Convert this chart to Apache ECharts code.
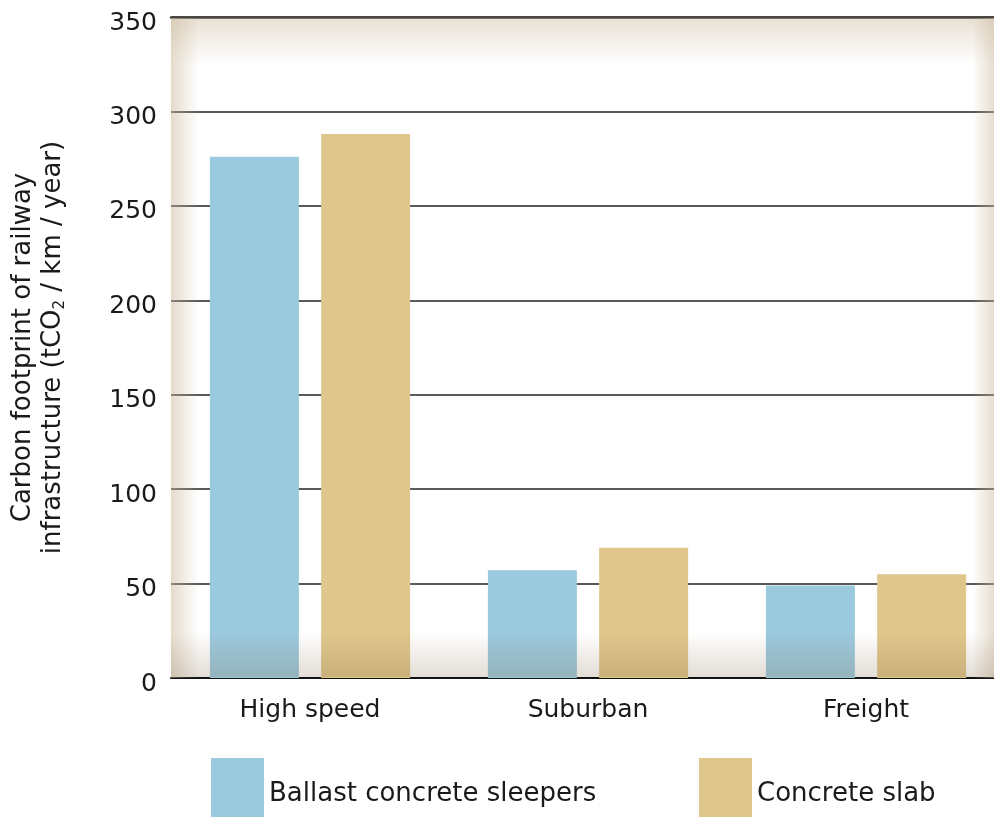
<!DOCTYPE html>
<html>
<head>
<meta charset="utf-8">
<script src="https://cdn.jsdelivr.net/npm/echarts@6/dist/echarts.min.js"></script>
<style>
  html, body { margin: 0; padding: 0; background: #fff; }
  #chart { width: 994px; height: 817px; }
</style>
</head>
<body>
<div id="chart"></div>
<script>
  // data
  var categories = ['High speed', 'Suburban', 'Freight'];
  var ballastSleepers = [276, 57, 49];
  var concreteSlab = [288, 69, 55];
  var yTicks = [0, 50, 100, 150, 200, 250, 300, 350];

  var FONT = 'DejaVu Sans';
  var chart = echarts.init(document.getElementById('chart'));

  // inner shadow round the plot area
  function band(x, y, w, h, dir, c0, c1) {
    var g = dir === 'right' ? [0, 0, 1, 0] : dir === 'left' ? [1, 0, 0, 0] :
            dir === 'down' ? [0, 0, 0, 1] : [0, 1, 0, 0];
    return {
      type: 'rect', z: 10, silent: true,
      shape: { x: x, y: y, width: w, height: h },
      style: {
        fill: new echarts.graphic.LinearGradient(g[0], g[1], g[2], g[3], [
          { offset: 0, color: c0 },
          { offset: 1, color: c1 }
        ])
      }
    };
  }

  var option = {
    backgroundColor: '#fff',
    animation: false,
    grid: { left: 171, top: 17, width: 834, height: 661, containLabel: false, outerBoundsMode: 'none' },
    legend: [
      {
        data: ['Ballast concrete sleepers'],
        left: 206, top: 753, icon: 'rect',
        itemWidth: 53, itemHeight: 72,
        textStyle: { fontFamily: FONT, fontSize: 26, color: '#1a1a1a' }
      },
      {
        data: ['Concrete slab'],
        left: 694, top: 753, icon: 'rect',
        itemWidth: 53, itemHeight: 72,
        textStyle: { fontFamily: FONT, fontSize: 26, color: '#1a1a1a' }
      }
    ],
    xAxis: [
      {
        type: 'category',
        data: categories,
        axisLine: { lineStyle: { color: '#111', width: 2 } },
        axisTick: { show: false },
        axisLabel: { margin: 20, fontFamily: FONT, fontSize: 25, color: '#1a1a1a' }
      },
      {
        // darker rule along the top (350)
        type: 'category',
        data: categories,
        position: 'top',
        axisLine: { lineStyle: { color: '#48443e', width: 2.5 } },
        axisTick: { show: false },
        axisLabel: { show: false }
      }
    ],
    yAxis: {
      type: 'value',
      min: yTicks[0], max: yTicks[yTicks.length - 1], interval: 50,
      axisLine: { show: false },
      axisTick: { show: false },
      splitLine: { lineStyle: { color: '#222', width: 1.5 } },
      axisLabel: {
        margin: 14,
        formatter: '{v|{value}}',
        rich: { v: { fontFamily: FONT, fontSize: 25, color: '#1a1a1a', padding: [12, 0, 0, 0] } }
      },
      name: 'Carbon footprint of railway\ninfrastructure (tCO{sub|2} / km / year)',
      nameLocation: 'middle',
      nameRotate: 90,
      nameGap: 103,
      nameTextStyle: {
        fontFamily: FONT, fontSize: 26, color: '#1a1a1a', lineHeight: 30, align: 'center',
        rich: { sub: { fontFamily: FONT, fontSize: 15, verticalAlign: 'bottom', padding: [10, 0, 0, 0] } }
      }
    },
    series: [
      {
        name: 'Ballast concrete sleepers',
        type: 'bar',
        data: ballastSleepers,
        barWidth: 89,
        barGap: '25%',
        itemStyle: { color: '#9bc9de' }
      },
      {
        name: 'Concrete slab',
        type: 'bar',
        data: concreteSlab,
        barWidth: 89,
        itemStyle: { color: '#dfc68c' }
      }
    ],
    graphic: [
      band(171, 18, 28, 660, 'right', 'rgba(200,180,150,0.47)', 'rgba(200,180,150,0)'),
      band(972, 18, 22, 660, 'left', 'rgba(200,180,150,0.45)', 'rgba(200,180,150,0)'),
      band(171, 19, 823, 45, 'down', 'rgba(200,180,150,0.4)', 'rgba(200,180,150,0)'),
      band(171, 632, 823, 45, 'up', 'rgba(125,100,65,0.22)', 'rgba(125,100,65,0)')
    ]
  };
  chart.setOption(option);
</script>
</body>
</html>
